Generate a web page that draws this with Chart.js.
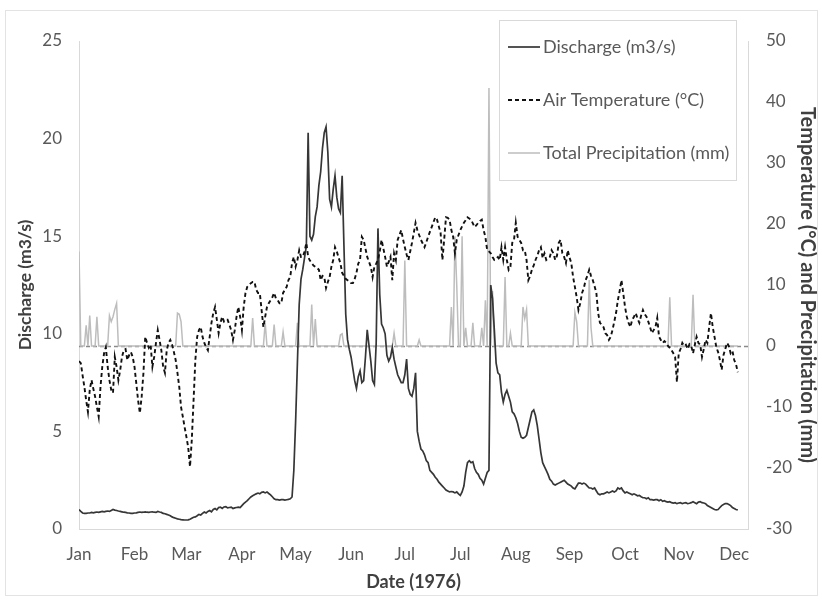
<!DOCTYPE html>
<html>
<head>
<meta charset="utf-8">
<script src="https://cdn.jsdelivr.net/npm/chart.js@4.4.0/dist/chart.umd.min.js"></script>
<style>
  html, body { margin: 0; padding: 0; background: #ffffff; }
  #wrap { width: 822px; height: 601px; }
</style>
</head>
<body>
<div id="wrap"><canvas id="c" width="822" height="601"></canvas></div>
<script>
// ---------- DATA (daily, 1976, starting 1 Jan) ----------
const monthTickDays = [0, 31, 60, 91, 121, 152, 182, 213, 244, 274, 305, 335, 366];
const monthTickLabels = ['Jan','Feb','Mar','Apr','May','Jun','Jul','Jul','Aug','Sep','Oct','Nov','Dec'];

const dischargeM3s = [
  1.0,0.9,0.82,0.8,0.8,0.82,0.82,0.85,0.83,0.85,
  0.87,0.85,0.88,0.9,0.88,0.9,0.92,0.9,0.95,1.0,
  0.97,0.95,0.92,0.9,0.88,0.86,0.85,0.83,0.82,0.8,
  0.8,0.82,0.83,0.85,0.87,0.85,0.86,0.88,0.86,0.85,
  0.87,0.88,0.86,0.85,0.9,0.87,0.85,0.8,0.78,0.75,
  0.72,0.68,0.62,0.58,0.55,0.52,0.5,0.48,0.47,0.46,
  0.46,0.47,0.5,0.55,0.6,0.62,0.68,0.75,0.72,0.8,
  0.87,0.82,0.9,0.95,0.88,1.0,1.05,0.98,1.1,1.12,
  1.05,1.13,1.15,1.08,1.1,1.12,1.05,1.08,1.1,1.12,
  1.1,1.2,1.3,1.38,1.45,1.55,1.64,1.7,1.75,1.8,
  1.84,1.8,1.88,1.9,1.85,1.9,1.82,1.75,1.65,1.55,
  1.5,1.5,1.48,1.5,1.5,1.48,1.5,1.52,1.55,1.64,
  3.0,5.5,8.5,11.5,12.8,13.3,13.9,14.5,20.3,15.0,
  14.8,15.1,16.0,16.5,17.6,18.3,19.5,20.3,20.6,19.3,
  16.9,16.5,17.4,18.1,17.0,16.4,16.2,18.1,14.5,11.0,
  9.7,9.2,8.8,8.2,7.6,7.2,7.8,8.1,7.5,7.6,
  8.8,10.2,9.4,8.6,7.6,7.4,9.5,15.4,12.0,10.5,
  10.3,10.0,8.9,8.6,8.8,9.3,8.7,8.3,7.9,7.7,
  7.5,7.5,7.9,8.7,7.2,6.9,6.8,7.2,8.0,5.0,
  4.5,4.1,4.0,3.8,3.5,3.4,3.0,2.9,2.8,2.65,
  2.55,2.4,2.3,2.2,2.1,2.0,1.95,1.9,1.92,1.9,
  1.85,1.9,1.8,1.72,1.9,2.2,2.9,3.4,3.5,3.4,
  3.45,3.1,2.9,2.8,2.6,2.5,2.3,2.6,2.9,3.0,
  12.5,11.8,10.2,8.5,8.0,7.9,7.0,6.5,6.9,7.1,
  6.8,6.5,6.0,5.9,5.7,5.4,5.0,4.7,4.65,4.7,
  4.8,5.2,5.6,6.0,6.1,5.8,5.3,4.6,3.9,3.4,
  3.2,3.0,2.8,2.55,2.45,2.3,2.25,2.3,2.35,2.4,
  2.45,2.5,2.4,2.3,2.25,2.2,2.1,2.05,2.2,2.35,
  2.35,2.3,2.35,2.3,2.2,2.1,2.1,2.05,2.1,1.95,
  1.8,1.75,1.8,1.8,1.85,1.9,1.85,1.9,1.95,1.9,
  1.95,2.1,2.05,2.1,1.95,1.85,1.9,1.85,1.8,1.75,
  1.8,1.75,1.7,1.72,1.65,1.6,1.6,1.55,1.6,1.5,
  1.5,1.48,1.5,1.5,1.45,1.5,1.42,1.45,1.4,1.38,
  1.4,1.35,1.33,1.35,1.3,1.33,1.35,1.3,1.33,1.35,
  1.3,1.32,1.35,1.4,1.35,1.3,1.38,1.4,1.35,1.33,
  1.3,1.2,1.15,1.1,1.05,1.0,0.98,1.0,1.1,1.2,
  1.25,1.3,1.3,1.25,1.2,1.1,1.05,1.0,0.97
];

const airTempC = [
  -2.5,-2.8,-4.8,-6.7,-8.9,-10.8,-7.2,-5.6,-7.0,-8.3,
  -10.0,-11.6,-6.7,-3.4,-1.2,-0.2,-3.4,-5.6,-7.2,-7.7,
  -1.8,-3.4,-5.6,-4.0,-1.8,-0.7,-0.5,-2.3,-1.5,-1.0,
  -1.8,-3.4,-6.1,-8.9,-11.0,-8.3,-4.4,1.5,0.5,-0.3,
  0.2,-3.4,-1.8,0.5,2.6,1.0,-0.7,-3.4,-4.4,-0.7,
  0.5,1.0,0.2,-1.0,-2.3,-4.4,-6.7,-10.0,-11.6,-13.3,
  -14.9,-16.6,-19.8,-15.4,-8.9,-2.3,1.5,2.6,3.1,1.5,
  0.5,-0.2,-0.7,1.5,3.8,5.4,6.4,4.3,2.1,3.8,
  4.8,4.0,4.3,4.3,3.5,2.6,1.0,2.6,4.8,6.4,
  4.8,2.6,6.4,8.7,9.7,10.0,10.3,10.5,10.5,9.2,
  8.7,8.7,5.9,3.1,4.8,6.4,7.0,7.5,8.0,8.7,
  7.8,7.5,7.0,7.0,8.7,9.2,9.7,10.8,11.3,13.6,
  14.6,13.0,14.1,15.7,14.6,14.6,15.5,16.9,14.6,14.0,
  13.6,13.2,13.0,12.8,12.5,10.8,11.5,11.3,9.5,10.5,
  11.3,13.0,14.1,16.2,15.5,14.5,13.6,12.0,11.5,11.0,
  10.8,10.5,10.3,10.3,11.0,12.0,13.5,14.1,17.9,17.4,
  16.0,14.6,13.8,13.0,11.3,13.0,13.5,14.1,15.5,17.4,
  16.0,14.6,13.0,13.8,14.6,10.8,15.2,14.1,17.4,18.2,
  19.0,17.5,16.2,15.0,14.1,15.5,16.9,18.5,20.2,19.0,
  18.2,17.4,16.8,16.2,17.0,17.9,18.7,19.5,20.3,21.1,
  20.7,19.6,18.5,14.1,17.5,21.1,21.0,20.7,19.0,17.9,
  15.2,17.4,18.2,19.0,19.6,20.2,20.6,21.1,20.9,20.7,
  20.1,19.5,19.8,20.2,20.5,20.7,19.0,17.9,15.7,15.5,
  15.2,14.6,14.1,14.3,14.6,14.1,16.2,14.1,16.2,14.1,
  12.5,13.0,16.9,17.4,20.2,17.9,17.4,16.9,15.7,15.7,
  14.1,10.8,11.5,12.5,13.2,14.1,14.8,15.7,16.2,14.4,
  15.2,14.1,14.4,14.6,15.7,15.2,14.1,14.8,16.9,17.4,
  15.2,14.6,13.6,15.7,14.5,13.6,11.3,9.7,8.0,5.9,
  7.0,8.7,9.5,10.8,11.5,12.5,11.5,10.8,9.8,8.7,
  5.4,3.8,3.5,3.1,2.1,1.8,1.0,1.5,2.6,4.0,
  5.4,7.5,9.0,10.8,8.7,6.4,4.8,3.8,3.1,4.3,
  4.8,5.4,4.5,3.8,5.0,5.9,5.2,4.8,4.0,3.1,
  2.1,2.6,3.1,4.6,1.5,1.0,0.5,0.8,0.5,0.0,
  -0.3,-0.7,-1.2,-1.8,-5.9,-1.2,-0.5,0.5,0.0,0.2,
  -0.5,0.3,0.0,-1.2,0.2,1.5,0.5,0.2,-1.8,-0.5,
  1.0,0.5,3.1,5.4,3.1,1.5,-0.2,-1.0,-2.3,-3.9,
  -1.5,-0.5,0.5,0.0,-1.2,-0.8,-2.3,-3.0,-4.3
];

// days with precipitation (day index from 1 Jan) and amounts (mm); all other days 0 mm
const precipDays = [0, 4, 6, 10, 17, 18, 19, 20, 21, 55, 56, 57, 97, 104, 109, 114, 122, 130, 132,
  146, 147, 176, 182, 190, 208, 210, 211, 214, 216, 220, 225, 227, 229, 231, 238, 241, 248, 249, 250,
  277, 278, 285, 286, 330, 343];
const precipMm = [15.5, 3.4, 5.0, 4.8, 5.0, 4.0, 4.8, 6.0, 7.0, 5.4, 5.2, 4.0, 4.6, 3.8, 3.5, 2.3, 3.8, 6.8, 4.4,
  1.8, 2.0, 2.1, 14.0, 1.0, 6.4, 18.0, 10.0, 18.0, 3.0, 3.8, 3.0, 7.5, 42.3, 9.0, 11.3, 2.1, 6.4, 4.5, 6.0,
  5.5, 4.0, 10.8, 3.0, 8.0, 8.4];

// ---------- BUILD ----------
const nDays = airTempC.length;
const precipDaily = new Array(nDays).fill(0);
precipDays.forEach((d, k) => { precipDaily[d] = precipMm[k]; });
const toXY = arr => arr.map((v, i) => ({ x: i, y: v }));

const FONT = 'Lato, "Open Sans", "Liberation Sans", sans-serif';
const TICK_COLOR = '#595959';
const TITLE_COLOR = '#404040';

const zeroLine = {
  id: 'zeroLine',
  beforeDatasetsDraw(chart) {
    const { ctx, chartArea } = chart;
    const y = Math.round(chart.scales.y1.getPixelForValue(0)) + 0.5;
    ctx.save();
    ctx.strokeStyle = '#8a8a8a';
    ctx.lineWidth = 1.5;
    ctx.setLineDash([4, 3]);
    ctx.beginPath();
    ctx.moveTo(chartArea.left, y);
    ctx.lineTo(chartArea.right, y);
    ctx.stroke();
    ctx.restore();
  }
};

const frameAndLegend = {
  id: 'frameAndLegend',
  afterDraw(chart) {
    const ctx = chart.ctx;
    ctx.save();
    // outer frame
    ctx.strokeStyle = '#e3e3e3';
    ctx.lineWidth = 1;
    ctx.strokeRect(5.5, 10.5, 812, 585);
    // legend box
    const bx = 499.5, by = 20.5, bw = 237, bh = 160;
    ctx.fillStyle = '#ffffff';
    ctx.fillRect(bx, by, bw, bh);
    ctx.strokeStyle = '#d9d9d9';
    ctx.strokeRect(bx, by, bw, bh);
    const rows = [47, 100, 153];
    chart.data.datasets.forEach((ds, i) => {
      const y = rows[i];
      ctx.strokeStyle = ds.borderColor;
      ctx.lineWidth = ds.borderWidth;
      ctx.setLineDash(ds.borderDash || []);
      ctx.beginPath();
      ctx.moveTo(508, y);
      ctx.lineTo(540, y);
      ctx.stroke();
      ctx.setLineDash([]);
      ctx.fillStyle = TICK_COLOR;
      ctx.font = '18px ' + FONT;
      ctx.textBaseline = 'middle';
      ctx.textAlign = 'left';
      ctx.fillText(ds.label, 543, y);
    });
    ctx.restore();
  }
};

new Chart(document.getElementById('c'), {
  type: 'line',
  data: {
    datasets: [
      { label: 'Discharge (m3/s)', data: toXY(dischargeM3s), yAxisID: 'y',
        borderColor: '#363636', borderWidth: 1.7, pointRadius: 0, tension: 0, order: 2 },
      { label: 'Air Temperature (°C)', data: toXY(airTempC), yAxisID: 'y1',
        borderColor: '#111111', borderWidth: 1.9, borderDash: [4, 3], pointRadius: 0, tension: 0, order: 1 },
      { label: 'Total Precipitation (mm)', data: toXY(precipDaily), yAxisID: 'y1',
        borderColor: '#bdbdbd', borderWidth: 1.5, pointRadius: 0, tension: 0, order: 3 }
    ]
  },
  options: {
    responsive: false,
    animation: false,
    devicePixelRatio: 1,
    layout: { padding: { top: 41, left: 0, right: 0, bottom: 0 } },
    plugins: { legend: { display: false }, tooltip: { enabled: false } },
    scales: {
      x: {
        type: 'linear', min: 0, max: 373.7,
        afterBuildTicks: s => { s.ticks = monthTickDays.map(v => ({ value: v })); },
        afterFit: s => { s.height = 72; },
        ticks: {
          autoSkip: false, maxRotation: 0, padding: 15,
          color: TICK_COLOR, font: { family: FONT, size: 17 },
          callback: (v, i) => monthTickLabels[i]
        },
        grid: { display: false, drawTicks: false },
        border: { display: true, color: '#d9d9d9', width: 1 },
        title: { display: true, text: 'Date (1976)', color: TITLE_COLOR,
          font: { family: FONT, size: 18, weight: 'bold' }, padding: { top: 0, bottom: 8 } }
      },
      y: {
        position: 'left', min: 0, max: 25,
        afterFit: s => { s.width = 79; },
        ticks: { stepSize: 5, padding: 17, color: TICK_COLOR, font: { family: FONT, size: 17 } },
        grid: { display: false, drawTicks: false },
        border: { display: true, color: '#d9d9d9', width: 1 },
        title: { display: true, text: 'Discharge (m3/s)', color: TITLE_COLOR,
          font: { family: FONT, size: 17.5, weight: 'bold' }, padding: { top: 15, bottom: 0 } }
      },
      y1: {
        position: 'right', min: -30, max: 50,
        afterFit: s => { s.width = 74; },
        ticks: { stepSize: 10, padding: 18, color: TICK_COLOR, font: { family: FONT, size: 17 } },
        grid: { display: false, drawTicks: false },
        border: { display: true, color: '#d9d9d9', width: 1 },
        title: { display: true, text: 'Temperature (°C) and Precipitation (mm)', color: TITLE_COLOR,
          font: { family: FONT, size: 20, weight: 'bold' }, padding: { top: 3, bottom: 0 } }
      }
    }
  },
  plugins: [zeroLine, frameAndLegend]
});
</script>
</body>
</html>
